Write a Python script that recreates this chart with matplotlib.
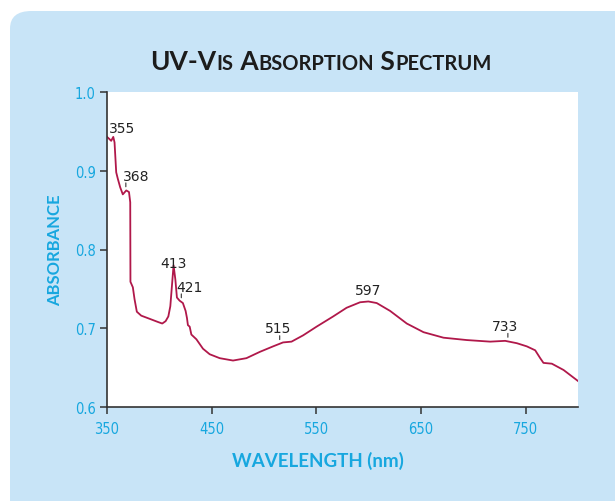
import matplotlib
matplotlib.use("Agg")
import matplotlib.pyplot as plt
import numpy as np
from matplotlib.patches import FancyBboxPatch
from matplotlib import font_manager

# spectrum
wavelength = [350, 351.7, 354, 356, 357.2, 358.8, 360.3, 362.6, 365.1, 368.4, 371, 372.2,
              372.4, 374.7, 376.3, 378.5, 382.7, 390.7, 398.6, 402.8, 406, 408.6, 410.5,
              413.6, 415.3, 416.8, 419.4, 422.5, 425.1, 426.4, 427.3, 429, 430.6, 435.4,
              441.7, 448.1, 457.7, 470.4, 483.2, 496, 508.7, 518.2, 526.3, 537.4, 550.2,
              566.1, 578.9, 591.8, 599.7, 607.7, 620.5, 636.4, 652.4, 671.5, 693.8, 716.1,
              730.4, 741.6, 751.1, 759.1, 763.9, 767, 775, 786.2, 800]
absorbance = [0.943, 0.941, 0.938, 0.943, 0.936, 0.898, 0.890, 0.879, 0.870, 0.875, 0.873, 0.860,
              0.759, 0.752, 0.737, 0.721, 0.716, 0.712, 0.708, 0.706, 0.709, 0.715, 0.728,
              0.780, 0.762, 0.739, 0.735, 0.732, 0.722, 0.713, 0.704, 0.702, 0.692, 0.686,
              0.674, 0.667, 0.662, 0.659, 0.662, 0.670, 0.677, 0.682, 0.683, 0.691, 0.702,
              0.715, 0.726, 0.733, 0.734, 0.732, 0.722, 0.706, 0.695, 0.688, 0.685, 0.683,
              0.684, 0.681, 0.677, 0.672, 0.662, 0.656, 0.655, 0.647, 0.633]

peaks = [355, 368, 413, 421, 515, 597, 733]
x_ticks = [350, 450, 550, 650, 750]
y_ticks = [0.6, 0.7, 0.8, 0.9, 1.0]

# label placement, pixels relative to the curve at each peak (layout only)
label_dx = [10, 10, 1, 8, -2, 3, -3]
label_dy = [11, 15, 10, 15, 16, 12, 15]
has_tick = [False, True, False, True, True, False, True]

CYAN = "#17a7df"
PANEL = "#c8e4f7"
LINE = "#b0184a"

# narrow face for the tick numbers, if there is one
names = {f.name for f in font_manager.fontManager.ttflist}
narrow = "Liberation Sans Narrow" if "Liberation Sans Narrow" in names else "DejaVu Sans"

fig = plt.figure(figsize=(6.15, 5.02), dpi=100)
fig.patch.set_facecolor("white")

# rounded light-blue panel running off the right and bottom edges
panel = FancyBboxPatch((10 / 615, -0.2), 1.2, (502 - 12) / 502 + 0.2,
                       boxstyle="round,pad=0,rounding_size=0.035",
                       transform=fig.transFigure, facecolor=PANEL, edgecolor="none", zorder=-5)
fig.patches.append(panel)

ax = fig.add_axes([107 / 615, 1 - 408 / 502, (578 - 107) / 615, (408 - 93) / 502])
ax.set_zorder(1)
ax.set_facecolor("white")
ax.plot(wavelength, absorbance, color=LINE, lw=1.3)
ax.set_xlim(350, 800)
ax.set_ylim(0.6, 1.0)
ax.set_xticks(x_ticks)
ax.set_yticks(y_ticks)
ax.set_yticklabels([f"{v:.1f}" for v in y_ticks])
for s in ["top", "right"]:
    ax.spines[s].set_visible(False)
for s in ["left", "bottom"]:
    ax.spines[s].set_color("#333333")
    ax.spines[s].set_linewidth(1.2)
ax.tick_params(direction="out", length=5, width=1.1, color="#333333",
               labelcolor=CYAN, labelsize=10.5, pad=3)
for lab in ax.get_xticklabels() + ax.get_yticklabels():
    lab.set_family(narrow)
    lab.set_fontstretch("condensed")
ax.tick_params(axis="x", pad=5)

# peak labels with small tick marks
for nm, dx, dy, tick in zip(peaks, label_dx, label_dy, has_tick):
    yv = np.interp(nm, wavelength, absorbance)
    ax.annotate(str(nm), xy=(nm, yv), xytext=(dx, dy), textcoords="offset pixels",
                ha="center", va="center", fontsize=10, color="#222222")
    if tick:
        ax.annotate("", xy=(nm, yv), xytext=(0, 8), textcoords="offset pixels",
                    arrowprops=dict(arrowstyle="-", color="#333333", lw=0.8,
                                    shrinkA=0, shrinkB=3))

fig.text(55 / 615, 1 - 250 / 502, "ABSORBANCE", rotation=90, ha="center", va="center",
         color=CYAN, fontsize=12, fontweight="bold", family="Lato")
fig.text(318 / 615, 1 - 461 / 502, "WAVELENGTH (nm)", ha="center", va="center",
         color=CYAN, fontsize=13.5, fontweight="bold", family="Lato")

# title in small caps, built from big and small pieces
pieces = [("UV-V", 19), ("IS", 14.5), (" A", 19), ("BSORPTION", 14.5), (" S", 19), ("PECTRUM", 14.5)]
fig.canvas.draw()
renderer = fig.canvas.get_renderer()
texts = []
total = 0
for s, size in pieces:
    t = fig.text(0, 1 - 70 / 502, s, fontsize=size, fontweight="bold", family="Lato",
                 color="#1c1c1c", va="baseline", ha="left")
    w = t.get_window_extent(renderer).width
    texts.append((t, w))
    total += w
x0 = 321 - total / 2
for t, w in texts:
    t.set_x(x0 / 615)
    x0 += w

fig.savefig("out.png", dpi=100)
